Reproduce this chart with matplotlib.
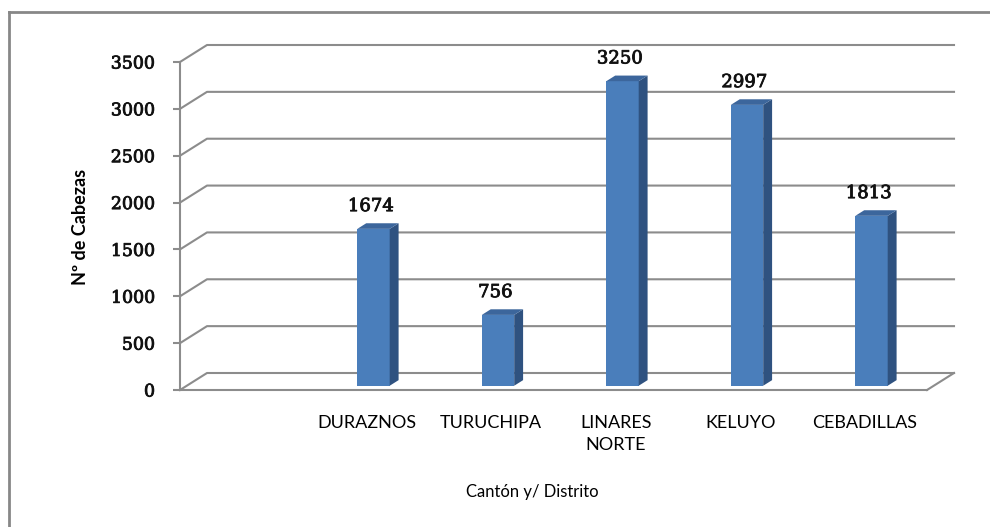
import numpy as np
import matplotlib.pyplot as plt
from matplotlib import transforms
from matplotlib import patheffects as pe
from matplotlib.patches import Polygon
from matplotlib.lines import Line2D

categories = ['', 'DURAZNOS', 'TURUCHIPA', 'LINARES\nNORTE', 'KELUYO', 'CEBADILLAS']
cabezas = [None, 1674, 756, 3250, 2997, 1813]
yticks = [0, 500, 1000, 1500, 2000, 2500, 3000, 3500]

W, H = 990, 527
GRID = '#8c8c8c'
FRONT, SIDE, TOP = '#4a7ebb', '#2f5280', '#3c669c'
medium = [pe.withStroke(linewidth=0.6, foreground='#111111')]

fig = plt.figure(figsize=(W / 100, H / 100), dpi=100)
ax = fig.add_axes([180 / W, 137 / H, 747 / W, 328 / H])
ax.set_xlim(0, len(categories))
ax.set_ylim(0, 3500)

# oblique depth of the chart box, in pixels
DX, DY = 27, 17
px = transforms.IdentityTransform()


def to_px(x, y, f):
    p = ax.transData.transform((x, y))
    return p[0] + DX * f, p[1] + DY * f


# back wall gridlines + the diagonals on the left wall
for v in yticks:
    a = to_px(0, v, 0)
    b = to_px(0, v, 1)
    c = to_px(len(categories), v, 1)
    ax.add_line(Line2D([a[0], b[0], c[0]], [a[1], b[1], c[1]], transform=px,
                       color=GRID, lw=1.5, clip_on=False, zorder=1))

# right edge of the floor
a = to_px(len(categories), 0, 0)
b = to_px(len(categories), 0, 1)
ax.add_line(Line2D([a[0], b[0]], [a[1], b[1]], transform=px, color=GRID, lw=1.5,
                   clip_on=False, zorder=1))

# columns
w = 0.26
d0, d1 = 0.25, 0.58
for i, v in enumerate(cabezas):
    if v is None:
        continue
    x0, x1 = i + 0.5 - w / 2, i + 0.5 + w / 2
    front = [to_px(x0, 0, d0), to_px(x1, 0, d0), to_px(x1, v, d0), to_px(x0, v, d0)]
    side = [to_px(x1, 0, d0), to_px(x1, 0, d1), to_px(x1, v, d1), to_px(x1, v, d0)]
    top = [to_px(x0, v, d0), to_px(x1, v, d0), to_px(x1, v, d1), to_px(x0, v, d1)]
    for pts, col in [(front, FRONT), (side, SIDE), (top, TOP)]:
        ax.add_patch(Polygon(pts, closed=True, transform=px, facecolor=col,
                             edgecolor='none', clip_on=False, zorder=3))
    ax.annotate(str(v), xy=(i + 0.5, v), xytext=(4, 18), textcoords='offset pixels',
                ha='center', va='bottom', fontsize=13, family='DejaVu Serif',
                color='#111111', annotation_clip=False, zorder=4, path_effects=medium)

for s in ['top', 'right']:
    ax.spines[s].set_visible(False)
for s in ['left', 'bottom']:
    ax.spines[s].set_color(GRID)
    ax.spines[s].set_linewidth(1.5)

ax.set_yticks(yticks)
ax.set_yticklabels([str(t) for t in yticks], family='DejaVu Serif', fontsize=12.5,
                   color='#111111', path_effects=medium)
ax.tick_params(axis='y', length=5, width=1.5, color=GRID, pad=13)
ax.set_xticks(np.arange(len(categories)) + 0.5)
ax.set_xticklabels(categories, family='Lato', fontsize=13, linespacing=1.45)
ax.tick_params(axis='x', length=0, pad=18)
ax.patch.set_visible(False)

fig.text(80 / W, 1 - 227 / H, 'Nº de Cabezas', rotation=90, ha='center', va='center',
         fontsize=13, weight='bold', family='Lato')
fig.text(532 / W, 1 - 492 / H, 'Cantón y/ Distrito', ha='center', va='center',
         fontsize=12, family='Lato')

# outer chart frame (only top and left edges fall inside the image)
fig.add_artist(Line2D([9 / W, 1.0], [1 - 12 / H, 1 - 12 / H], color='#878787', lw=2))
fig.add_artist(Line2D([9 / W, 9 / W], [0.0, 1 - 12 / H], color='#878787', lw=2))

fig.savefig('out.png', dpi=100)
